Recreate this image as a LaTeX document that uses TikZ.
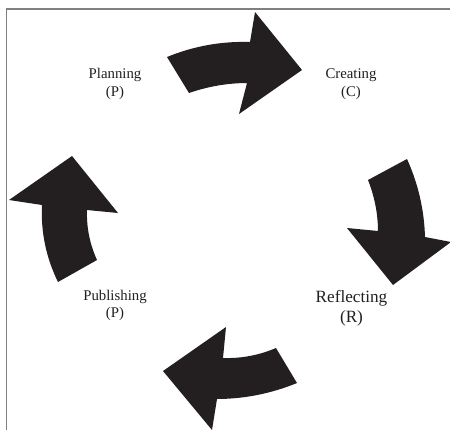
\documentclass[tikz,border=0pt]{standalone}
\usepackage{fontspec}
\setmainfont{Liberation Serif}
\usepackage{tikz}
\definecolor{arrowblack}{HTML}{231F20}
\definecolor{framegray}{HTML}{808080}
\tikzset{
	cyclearrow/.style={fill=arrowblack, draw=none},
	steplabel/.style={align=center, inner sep=0pt, text=arrowblack, font=\fontsize{14.8}{17.5}\selectfont},
	biglabel/.style={steplabel, font=\fontsize{17.2}{20}\selectfont}
}

\begin{document}
\begin{tikzpicture}[x=1pt, y=-1pt]
			%%%%% START %%%%%
			
			\clip (0, 0) rectangle (450, 429);
			\fill[white] (0, 0) rectangle (450, 429);
			
			\draw[framegray, line width=1.5pt] (6.7, 440) -- (6.7, 9) -- (460, 9);
			
			% planning -> creating
			\fill[cyclearrow] (167, 57) .. controls (193.6, 46.1) and (221.2, 41.1) .. (250, 42)
				-- (255, 12) -- (302, 70) -- (239, 114) -- (247, 83)
				.. controls (227.1, 83.1) and (207.7, 86.5) .. (189, 93) -- cycle;
			
			% creating -> reflecting
			\fill[cyclearrow] (407, 159) -- (368, 180)
				.. controls (374.5, 196.4) and (377.9, 213.4) .. (378, 231)
				-- (347, 228) -- (393, 285) -- (451, 242) -- (425, 237)
				.. controls (424.2, 209.8) and (418.2, 183.8) .. (407, 159) -- cycle;
			
			% reflecting -> publishing
			\fill[cyclearrow] (276, 348) .. controls (259.1, 355.2) and (241.4, 358.6) .. (223, 358)
				-- (226, 327) -- (163, 371) -- (212, 430) -- (217, 399)
				.. controls (244.7, 398.9) and (271.3, 393.5) .. (297, 383) -- cycle;
			
			% publishing -> planning
			\fill[cyclearrow] (58, 282) .. controls (46.1, 257.7) and (40.7, 232.1) .. (42, 205)
				-- (9, 200) -- (72, 156) -- (118, 213) -- (87, 210)
				.. controls (86.4, 227.5) and (89.8, 244.1) .. (97, 260) -- cycle;
			
			\node[steplabel] (planning) at (115, 84) {Planning\\(P)};
			\node[steplabel] (creating) at (351, 84.3) {Creating\\(C)};
			\node[biglabel] (reflecting) at (351.5, 308.2) {Reflecting\\(R)};
			\node[steplabel] (publishing) at (115, 305.3) {Publishing\\(P)};
			
			%%%%% END %%%%%
		\end{tikzpicture}
\end{document}
